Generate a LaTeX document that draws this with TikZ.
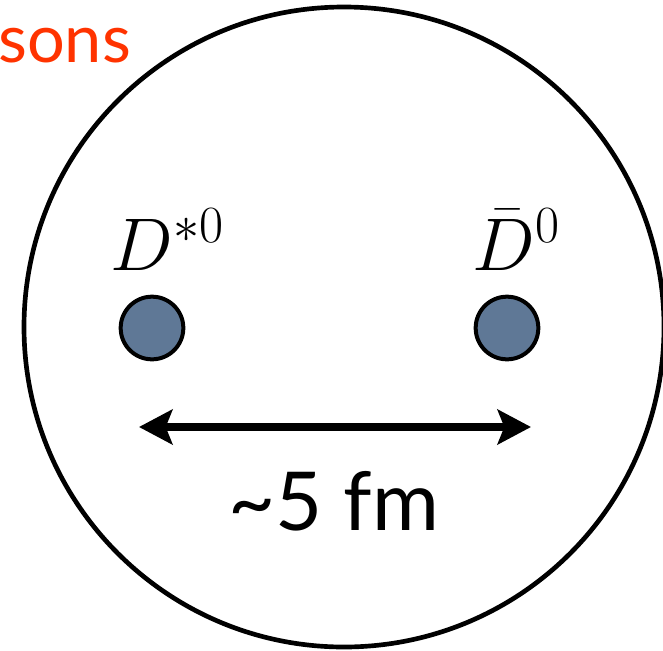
\RequirePackage{fix-cm}
\documentclass[tikz,border=0pt]{standalone}
\usepackage{amsmath}
\usepackage{fontspec}
\newfontfamily\sanslabel{Lato}
\usepackage{tikz}
\usetikzlibrary{arrows.meta, positioning}
\usepackage{xcolor}
\definecolor{mesonblue}{HTML}{5F7896}
\definecolor{titlered}{HTML}{FF3300}

\begin{document}
\begin{tikzpicture}[x=0.75pt, y=-0.75pt]

        \useasboundingbox (0,0) rectangle (663,650);

        % Define the centre of the molecule (O)
        \coordinate (O) at (344, 327);

        % 1. The big circle (the molecule)
        \draw[line width=3.5pt, black] (O) circle[radius=320];

        % 2. Mark the two mesons
        \tikzset{meson/.style={fill=mesonblue, draw=black, line width=3pt, circle, minimum size=47pt, inner sep=0pt}}
        \tikzset{mathlabel/.style={anchor=base west, inner sep=0pt, font=\fontsize{56}{60}\selectfont}}

        \node[meson] (Dstar) at (152, 328) {};
        \node[meson] (Dbar) at (507, 328) {};

        \node[mathlabel] (DstarLabel) at (110, 270) {$D^{*0}$};
        \node[mathlabel] (DbarLabel) at (472, 270) {$\bar{D}^{0}$};

        % 3. The distance between them
        \coordinate (arrL) at (139, 427);
        \coordinate (arrR) at (531, 427);
        \draw[line width=5.5pt, {Stealth[length=25pt, width=26pt, inset=5pt]}-{Stealth[length=25pt, width=26pt, inset=5pt]}] (arrL) -- (arrR);

        \node[anchor=base, inner sep=0pt, font=\sanslabel\fontsize{61}{66}\selectfont] (dist) at (334, 530) {\char`\~5 fm};

        % 4. Title, cut off at the left edge
        \node[anchor=base west, inner sep=0pt, text=titlered, font=\sanslabel\fontsize{50}{54}\selectfont] (title) at (-2, 62) {sons};

    \end{tikzpicture}
\end{document}
